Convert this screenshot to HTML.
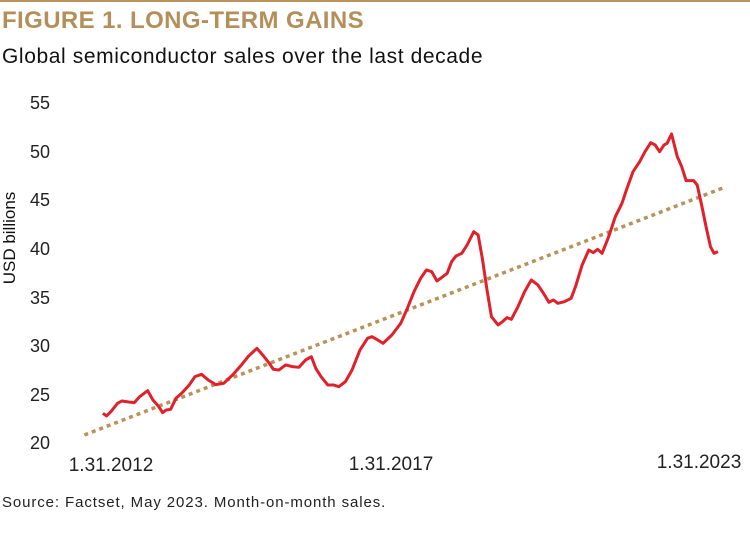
<!DOCTYPE html>
<html><head><style>
body{margin:0;width:750px;height:537px;background:#fff;position:relative;font-family:"Liberation Sans",sans-serif;overflow:hidden}
.t{position:absolute;white-space:nowrap}
</style></head><body>
<div style="position:absolute;left:0;top:0;width:750px;height:2px;background:#b8925a"></div>
<div class="t" style="left:2px;top:7px;font-size:24px;font-weight:bold;color:#b58f5a;letter-spacing:0.4px">FIGURE 1. LONG-TERM GAINS</div>
<div class="t" style="left:2px;top:45px;font-size:21px;color:#111;letter-spacing:0.6px">Global semiconductor sales over the last decade</div>
<div class="t" style="left:-45px;top:228px;font-size:17px;color:#111;transform:rotate(-90deg);transform-origin:center;width:110px;text-align:center">USD billions</div>
<svg width="750" height="537" style="position:absolute;left:0;top:0">
<g font-family="Liberation Sans, sans-serif" font-size="18" fill="#222" text-anchor="end">
<text x="50" y="109">55</text><text x="50" y="158">50</text><text x="50" y="206">45</text><text x="50" y="255">40</text><text x="50" y="304">35</text><text x="50" y="352">30</text><text x="50" y="401">25</text><text x="50" y="449">20</text>
</g>
<g font-family="Liberation Sans, sans-serif" font-size="19" fill="#222" text-anchor="middle">
<text x="111" y="471">1.31.2012</text><text x="391" y="470">1.31.2017</text><text x="699" y="468">1.31.2023</text>
</g>
<g transform="translate(60,90) scale(0.4425,0.3333)">
<line x1="55" y1="1035" x2="1500" y2="293" stroke="#b8925a" stroke-width="3.5" stroke-dasharray="4 4" vector-effect="non-scaling-stroke"/>
<polyline fill="none" stroke="#e0202a" stroke-width="3" stroke-linejoin="round" vector-effect="non-scaling-stroke" points="97,970 105,978 115,965 130,940 140,933 155,936 168,938 180,920 198,902 210,930 222,948 232,968 240,960 250,958 262,925 275,910 292,885 305,860 320,853 335,870 352,884 370,880 390,855 410,825 425,800 445,775 458,795 472,818 482,838 495,840 510,825 525,830 540,832 555,810 568,800 578,835 590,860 605,885 618,885 630,890 645,875 660,840 678,780 695,745 705,740 718,750 730,760 750,735 770,700 785,655 800,605 815,565 828,540 840,545 852,573 865,560 875,550 885,515 895,498 908,490 920,465 935,425 945,435 955,510 965,600 975,680 990,705 1000,695 1010,683 1020,688 1035,650 1050,605 1065,570 1080,585 1095,615 1105,637 1115,630 1125,640 1140,635 1155,625 1165,590 1180,525 1195,480 1205,488 1215,478 1225,490 1240,440 1255,380 1270,340 1280,300 1295,245 1310,215 1322,185 1335,158 1345,165 1355,185 1365,165 1372,160 1382,132 1395,200 1405,230 1415,272 1432,272 1440,285 1450,345 1460,410 1470,470 1478,490 1487,485"/>
</g>
</svg>
<div class="t" style="left:2px;top:494px;font-size:15px;color:#222;letter-spacing:0.9px">Source: Factset, May 2023. Month-on-month sales.</div>
</body></html>
